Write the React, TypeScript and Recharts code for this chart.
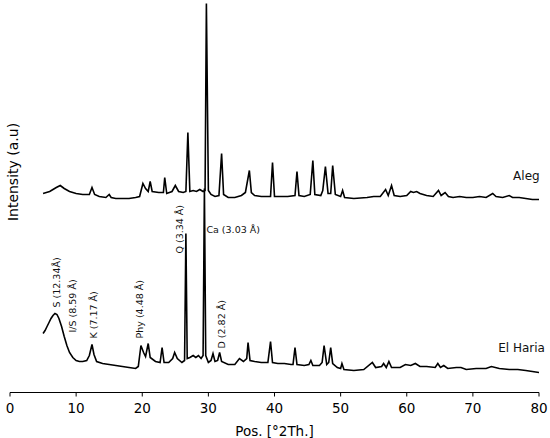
import React from "react"
import { LineChart, Line, XAxis, YAxis, ReferenceDot } from "recharts"

// 2θ positions and intensities (a.u., Aleg already shifted up)
const alegTheta = [
  5.0, 5.5, 6.0, 6.5, 7.0, 7.6, 8.2, 9.0, 10.0, 11.0, 12.0, 12.4, 12.8, 13.5, 14.5, 15.0, 15.3, 16, 17, 18,
  19, 19.6, 20.1, 20.5, 20.9, 21.2, 21.5, 22.5, 23.2, 23.4, 23.7, 24.5, 25.0, 25.5, 26.2, 26.6, 26.9, 27.2, 27.7, 28.2,
  28.7, 29.2, 29.5, 29.7, 30.0, 30.4, 31.0, 31.6, 32.0, 32.3, 33, 34, 35, 35.6, 36.2, 36.5, 37, 38, 39.4, 39.7,
  40.0, 41, 42, 43.1, 43.4, 43.7, 44.5, 45.4, 45.8, 46.1, 47.0, 47.3, 47.7, 48.1, 48.5, 48.8, 49.2, 50.0, 50.3, 50.6,
  52, 54, 55, 56, 56.8, 57.2, 57.7, 58.1, 59, 60, 60.6, 61.0, 61.5, 62, 63, 64, 64.8, 65.2, 65.8, 66.3,
  67, 68, 69, 70, 71, 72, 73, 73.5, 74.5, 75.5, 76, 77, 78, 79, 80,
]
const alegIntensity = [
  199, 200, 201, 203, 205, 207, 204, 201, 199, 198, 198, 205, 198, 196, 195, 198, 195, 194, 194, 194,
  195, 196, 209, 204, 201, 211, 201, 200, 200, 215, 199, 201, 207, 201, 200, 201, 260, 201, 202, 201,
  203, 201, 202, 389, 202, 198, 196, 197, 239, 198, 195, 195, 197, 200, 222, 200, 197, 196, 196, 230,
  196, 196, 196, 197, 221, 197, 196, 198, 232, 198, 197, 202, 226, 199, 199, 227, 198, 196, 202, 195,
  194, 195, 196, 196, 203, 197, 207, 197, 196, 197, 201, 200, 201, 199, 197, 196, 202, 197, 200, 196,
  195, 196, 195, 195, 196, 195, 199, 196, 195, 197, 195, 195, 194, 193, 193,
]

const elHariaTheta = [
  5.0, 5.3, 5.6, 5.9, 6.2, 6.5, 6.8, 7.1, 7.4, 7.8, 8.2, 8.6, 9.0, 9.5, 10.0, 10.5, 11.0, 11.6, 12.0, 12.4,
  12.7, 13.1, 14, 15, 16, 17, 18, 19, 19.4, 19.8, 20.2, 20.5, 20.9, 21.2, 22, 22.7, 23.0, 23.3, 24, 24.6,
  24.9, 25.3, 26, 26.4, 26.6, 26.8, 27.2, 27.7, 28.1, 28.5, 28.9, 29.2, 29.4, 29.6, 30.0, 30.4, 30.7, 31.0, 31.4, 31.7,
  32.0, 33, 34, 34.7, 35.3, 35.8, 36.0, 36.3, 37, 38, 39, 39.4, 39.7, 40.5, 41.5, 42.5, 42.8, 43.1, 43.4, 44.5,
  45.2, 45.5, 45.8, 46.8, 47.2, 47.5, 47.9, 48.2, 48.5, 48.8, 49.5, 50.0, 50.2, 50.5, 52, 53.5, 54.8, 55.3, 56.2, 56.5,
  56.9, 57.3, 57.7, 59, 59.8, 60.6, 61.3, 62, 63, 64.3, 64.7, 65.1, 65.6, 66.2, 67.5, 68.2, 69, 70.5, 72, 72.8,
  74, 75.5, 76.8, 78, 79, 80,
]
const elHariaIntensity = [
  59, 62, 66, 70, 74, 77, 79, 78, 74, 66, 56, 47, 40, 35, 32, 31, 31, 32, 37, 48,
  38, 31, 29, 28, 27, 26, 25, 24, 26, 47, 40, 36, 49, 35, 31, 30, 45, 30, 30, 34,
  40, 34, 30, 32, 159, 34, 35, 37, 35, 37, 34, 37, 204, 37, 30, 32, 39, 31, 32, 40,
  31, 28, 28, 34, 31, 34, 50, 32, 31, 30, 30, 51, 30, 29, 29, 28, 28, 45, 28, 27,
  28, 32, 27, 27, 30, 47, 28, 30, 45, 29, 25, 24, 29, 23, 22, 23, 30, 25, 26, 29,
  25, 31, 25, 25, 28, 27, 29, 26, 26, 25, 29, 25, 27, 24, 25, 25, 23, 24, 24, 26,
  24, 23, 23, 22, 21, 20,
]

const xTicks = [0, 10, 20, 30, 40, 50, 60, 70, 80]

// phase labels: [2θ, intensity at text start, text]
const peakLabels: [number, number, string][] = [
  [7.1, 85, "S (12.34Å)"],
  [9.5, 60, "I/S (8.59 Å)"],
  [12.7, 54, "K  (7.17 Å)"],
  [19.6, 54, "Phy (4.48 Å)"],
  [25.7, 139, "Q (3.34 Å)"],
  [32.0, 44, "D (2.82 Å)"],
]

const font = "'DejaVu Sans', sans-serif"

const alegData = alegTheta.map((t, i) => ({ t, y: alegIntensity[i] }))
const elHariaData = elHariaTheta.map((t, i) => ({ t, y: elHariaIntensity[i] }))

function textLabel(text: string, rotate: boolean, anchor: "start" | "end", size: number) {
  return (props: any) => {
    const { x, y } = props.viewBox
    if (rotate) {
      return (
        <text
          x={x}
          y={y}
          dy="0.35em"
          transform={`rotate(-90 ${x} ${y})`}
          textAnchor="start"
          fontSize={size}
          fontFamily={font}
          fill="#111"
        >
          {text}
        </text>
      )
    }
    return (
      <text x={x} y={y} textAnchor={anchor} fontSize={size} fontFamily={font} fill="#111">
        {text}
      </text>
    )
  }
}

export default function App() {
  return (
    <div style={{ position: "absolute", left: 0, top: 0, width: 550, height: 438, background: "#fff" }}>
      <LineChart width={550} height={438} margin={{ top: 0, right: 11, bottom: 0, left: 10 }}>
        <XAxis
          dataKey="t"
          type="number"
          domain={[0, 80]}
          ticks={xTicks}
          interval={0}
          allowDataOverflow
          height={45.5}
          tickSize={4}
          tickMargin={7}
          axisLine={{ stroke: "#000" }}
          tickLine={{ stroke: "#000" }}
          tick={{ fill: "#000", fontSize: 13.5, fontFamily: font }}
          label={{ value: "Pos. [°2Th.]", position: "insideBottom", offset: 2, fill: "#000", fontSize: 13.5, fontFamily: font }}
        />
        <YAxis hide type="number" domain={[0, 392.5]} allowDataOverflow />
        <Line
          data={elHariaData}
          dataKey="y"
          type="linear"
          dot={false}
          stroke="#000"
          strokeWidth={1.6}
          isAnimationActive={false}
        />
        <Line
          data={alegData}
          dataKey="y"
          type="linear"
          dot={false}
          stroke="#000"
          strokeWidth={1.6}
          isAnimationActive={false}
        />
        {peakLabels.map(([t, v, text]) => (
          <ReferenceDot
            key={text}
            x={t}
            y={v}
            r={0}
            stroke="none"
            ifOverflow="visible"
            label={{ content: textLabel(text, true, "start", 9.5) }}
          />
        ))}
        <ReferenceDot x={29.7} y={160} r={0} stroke="none" ifOverflow="visible"
          label={{ content: textLabel("Ca (3.03 Å)", false, "start", 9.5) }} />
        <ReferenceDot x={80.1} y={213} r={0} stroke="none" ifOverflow="visible"
          label={{ content: textLabel("Aleg", false, "end", 12) }} />
        <ReferenceDot x={80.9} y={41} r={0} stroke="none" ifOverflow="visible"
          label={{ content: textLabel("El Haria", false, "end", 12) }} />
      </LineChart>
      <div
        style={{
          position: "absolute",
          left: 13,
          top: 172,
          transform: "translate(-50%, -50%) rotate(-90deg)",
          whiteSpace: "nowrap",
          fontFamily: font,
          fontSize: 14,
          color: "#000",
        }}
      >
        Intensity (a.u)
      </div>
    </div>
  )
}
